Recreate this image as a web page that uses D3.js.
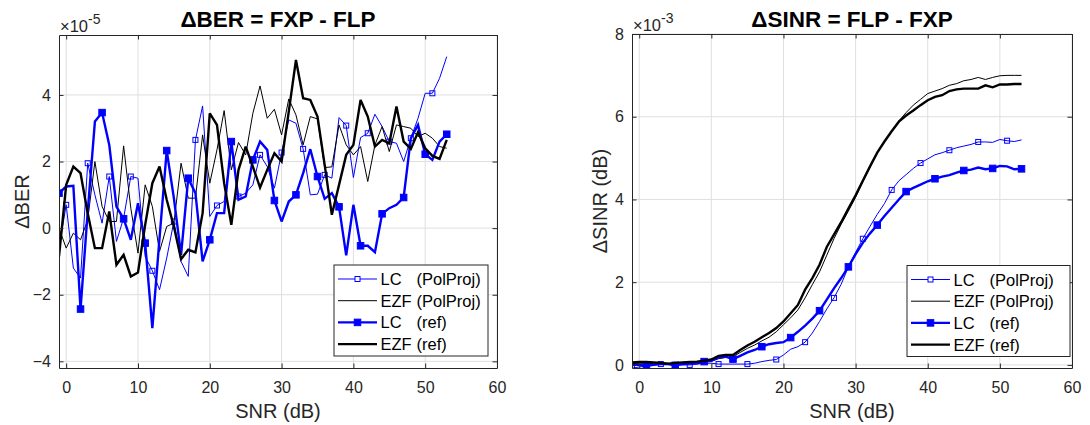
<!DOCTYPE html>
<html><head><meta charset="utf-8">
<script src="https://cdn.jsdelivr.net/npm/d3@7"></script>
<style>
html,body{margin:0;padding:0;background:#fff;}
svg text{font-family:"Liberation Sans",Arial,Helvetica,sans-serif;}
</style></head>
<body>
<svg id="chart" width="1090" height="425"></svg>
<script>
// ---------- DATA ----------
const snr = d3.range(-1, 54); // -1 .. 53 dB

// Left: ΔBER (x1e-5)
const berLcPol = [-0.6,0.7,-1.2,-1.5,1.95,1.0,0.15,1.55,-0.4,0.3,1.55,1.5,-0.85,-1.28,-1.85,-0.9,0.2,-1.0,-1.45,2.65,3.67,0.35,0.68,0.8,2.45,0.95,1.05,1.3,2.2,1.85,1.2,2.27,3.25,3.15,2.38,1.0,1.02,1.6,1.5,3.32,3.08,1.52,2.72,2.85,3.42,3.05,2.6,2.55,2.0,2.7,3.3,4.05,4.05,4.5,5.15];
const berEzfPol = [0,-0.6,-0.15,-0.35,0.25,2.0,0.65,0.2,0.2,2.47,0.6,-0.75,1.3,0.65,-0.7,0.05,0.15,1.95,0.9,0.9,2.8,1.35,2.35,3.53,1.75,2.57,2.2,3.45,4.27,3.3,3.57,2.8,3.88,3.4,2.5,3.35,3.28,1.82,1.84,3.1,2.5,2.2,2.45,1.4,2.5,3.05,2.3,3.1,3.05,3.0,2.75,2.85,2.7,2.45,2.4];
const berLcRef = [1.05,1.25,1.27,-2.43,0.5,3.2,3.47,2.5,0.65,0.28,-0.35,0.75,-0.45,-3.0,-0.3,2.33,0.9,-0.8,1.5,1.05,-1.0,-0.35,0.45,0.45,2.6,0.85,0.95,2.05,2.6,2.35,0.83,0.2,0.8,1.0,1.65,2.37,1.55,0.88,1.05,0.64,-0.82,0.7,-0.53,-0.53,-0.72,0.43,0.6,0.7,0.92,2.7,3.1,2.22,2.05,2.6,2.82];
const berEzfRef = [-0.85,1.3,1.85,1.65,0.45,-0.6,-0.6,0.5,-1.1,-0.8,-1.45,-1.33,0.1,1.35,1.85,0.85,0.05,-0.93,-0.65,-0.73,0.45,3.45,3.1,1.35,0.1,1.75,2.45,1.85,1.22,1.75,2.25,2.0,3.5,5.05,3.9,3.85,3.35,1.9,0.4,1.3,2.2,2.5,3.85,3.35,2.45,2.65,2.55,3.65,2.6,2.38,2.88,2.4,2.17,2.08,2.65];

// Right: ΔSINR (dB, x1e-3)
const sinrLcPol = [-0.08,-0.05,-0.03,0,0.02,0.01,0,0,0,0.02,0.04,0.04,0.02,0.02,0.02,0.02,0.02,0.04,0.08,0.11,0.13,0.24,0.38,0.44,0.55,0.77,1.05,1.35,1.62,1.95,2.37,2.72,3.05,3.35,3.64,3.9,4.23,4.45,4.6,4.75,4.88,4.98,5.08,5.13,5.19,5.25,5.29,5.33,5.39,5.39,5.38,5.45,5.42,5.4,5.44];
const sinrEzfPol = [0.03,0.04,0.04,0.03,0.03,0.02,0.04,0.05,0.05,0.06,0.07,0.09,0.15,0.18,0.2,0.3,0.4,0.48,0.58,0.67,0.8,0.97,1.14,1.33,1.62,1.94,2.25,2.65,3.05,3.4,3.72,4.05,4.42,4.78,5.13,5.4,5.65,5.9,6.1,6.28,6.42,6.56,6.62,6.68,6.76,6.8,6.87,6.9,6.95,6.9,6.95,6.99,7.0,7.0,7.0];
const sinrLcRef = [0,0,-0.02,0,0.02,0.02,-0.01,0.02,0.03,0.04,0.08,0.1,0.18,0.2,0.14,0.22,0.3,0.36,0.44,0.5,0.53,0.55,0.66,0.8,0.95,1.12,1.31,1.58,1.85,2.1,2.37,2.68,2.95,3.18,3.38,3.6,3.8,4.0,4.19,4.28,4.36,4.44,4.5,4.55,4.59,4.65,4.7,4.72,4.77,4.73,4.75,4.81,4.8,4.73,4.74];
const sinrEzfRef = [0.06,0.07,0.07,0.06,0.05,0.03,0.05,0.06,0.07,0.08,0.1,0.13,0.22,0.24,0.24,0.36,0.47,0.56,0.67,0.77,0.89,1.05,1.25,1.45,1.82,2.1,2.42,2.85,3.15,3.45,3.78,4.1,4.45,4.8,5.13,5.4,5.65,5.88,6.03,6.15,6.28,6.4,6.48,6.52,6.62,6.66,6.68,6.68,6.68,6.76,6.71,6.78,6.78,6.79,6.79];

const xTicks = [0,10,20,30,40,50,60];
const berTicks = [-4,-2,0,2,4];
const sinrTicks = [0,2,4,6,8];
const legendLabels = [["LC","(PolProj)"],["EZF","(PolProj)"],["LC","(ref)"],["EZF","(ref)"]];

// ---------- DRAW ----------
const svg = d3.select("#chart");
const AX = "#262626", GRID = "#dfdfdf";

const styles = [
  {color:"#0000ff", w:1,   marker:"open",   ms:5},
  {color:"#000000", w:1,   marker:null},
  {color:"#0000ff", w:2.4, marker:"filled", ms:6.5},
  {color:"#000000", w:2.4, marker:null}
];

function panel(o){
  const g = svg.append("g").attr("transform",`translate(${o.left},${o.top})`);
  const x = d3.scaleLinear().domain([-1,60]).range([0,o.w]);
  const y = d3.scaleLinear().domain(o.ydom).range([o.h,0]);
  // grid
  g.append("g").selectAll("line").data(xTicks).join("line")
    .attr("x1",d=>x(d)).attr("x2",d=>x(d)).attr("y1",0).attr("y2",o.h)
    .attr("stroke",GRID).attr("stroke-width",1);
  g.append("g").selectAll("line").data(o.yticks).join("line")
    .attr("y1",d=>y(d)).attr("y2",d=>y(d)).attr("x1",0).attr("x2",o.w)
    .attr("stroke",GRID).attr("stroke-width",1);

  const clipId = "clip"+o.id;
  g.append("clipPath").attr("id",clipId).append("rect").attr("width",o.w).attr("height",o.h);
  const plot = g.append("g").attr("clip-path",`url(#${clipId})`);
  const line = d3.line().x((d,i)=>x(snr[i])).y(d=>y(d));
  o.series.forEach((s,k)=>{
    const st = styles[k];
    plot.append("path").datum(s).attr("d",line).attr("fill","none")
      .attr("stroke",st.color).attr("stroke-width",st.w).attr("stroke-linejoin","miter").attr("stroke-miterlimit",3);
    if(st.marker){
      const idx = snr.map((v,i)=>i).filter(i=>o.markerIdx[k](snr[i]));
      plot.append("g").selectAll("rect").data(idx).join("rect")
        .attr("x",i=>x(snr[i])-st.ms/2).attr("y",i=>y(s[i])-st.ms/2)
        .attr("width",st.ms).attr("height",st.ms)
        .attr("fill",st.marker==="filled"?st.color:"none")
        .attr("stroke",st.color).attr("stroke-width",1);
    }
  });

  // axes (box with ticks inside)
  const tl = 4.5;
  const xb = g.append("g").attr("transform",`translate(0,${o.h})`)
    .call(d3.axisBottom(x).tickValues(xTicks).tickSizeInner(-tl).tickSizeOuter(0).tickPadding(10));
  const xt = g.append("g").call(d3.axisTop(x).tickValues(xTicks).tickSizeInner(-tl).tickSizeOuter(0).tickFormat(""));
  const yl = g.append("g").call(d3.axisLeft(y).tickValues(o.yticks).tickSizeInner(-tl).tickSizeOuter(0).tickPadding(8));
  const yr = g.append("g").attr("transform",`translate(${o.w},0)`)
    .call(d3.axisRight(y).tickValues(o.yticks).tickSizeInner(-tl).tickSizeOuter(0).tickFormat(""));
  [xb,xt,yl,yr].forEach(a=>{
    a.select(".domain").attr("stroke",AX).attr("stroke-width",1);
    a.selectAll(".tick line").attr("stroke",AX);
    a.selectAll(".tick text").attr("fill",AX).style("font-size","16px").style("font-family","Liberation Sans, Arial, sans-serif");
  });
  xb.selectAll(".tick text").attr("dy","0.95em");

  // exponent
  const ex = g.append("text").attr("x",1).attr("y",-3.5).attr("fill",AX).style("font-size","16.5px");
  ex.append("tspan").text("×10");
  ex.append("tspan").attr("dy",-7.5).style("font-size","14px").text(o.exp);

  // title
  svg.append("text").attr("x",o.left+o.w/2).attr("y",27).attr("text-anchor","middle")
    .style("font-size","22.5px").style("font-weight","bold").attr("fill","#000").text(o.title);
  // x label
  svg.append("text").attr("x",o.left+o.w/2).attr("y",418).attr("text-anchor","middle")
    .style("font-size","20px").attr("fill",AX).text("SNR (dB)");
  // y label
  svg.append("text").attr("transform",`translate(${o.ylabX},${o.top+o.h/2}) rotate(-90)`)
    .attr("text-anchor","middle").style("font-size","20px").attr("fill",AX).text(o.ylab);

  // legend
  const L = o.legend;
  const lg = svg.append("g").attr("transform",`translate(${L.x},${L.y})`);
  lg.append("rect").attr("width",L.w).attr("height",L.h).attr("fill","#fff").attr("stroke",AX).attr("stroke-width",1);
  legendLabels.forEach((lab,k)=>{
    const st = styles[k];
    const yy = 14 + k*21.7;
    lg.append("line").attr("x1",4).attr("x2",43).attr("y1",yy).attr("y2",yy)
      .attr("stroke",st.color).attr("stroke-width",st.w);
    if(st.marker){
      lg.append("rect").attr("x",23.5-st.ms/2).attr("y",yy-st.ms/2).attr("width",st.ms).attr("height",st.ms)
        .attr("fill",st.marker==="filled"?st.color:"#fff").attr("stroke",st.color);
    }
    const t = lg.append("text").attr("y",yy+6).attr("fill","#000").style("font-size","16.5px");
    t.append("tspan").attr("x",46.5).text(lab[0]);
    t.append("tspan").attr("x",82.5).text(lab[1]);
  });
}

panel({id:"L", left:59, top:35, w:438, h:333, ydom:[-4.2,5.8], yticks:berTicks,
  series:[berLcPol,berEzfPol,berLcRef,berEzfRef],
  markerIdx:[s=>((s)%3+3)%3===0, null, s=>((s+1)%3+3)%3===0, null],
  exp:"-5", title:"ΔBER = FXP - FLP", ylab:"ΔBER", ylabX:28.5,
  legend:{x:334, y:265, w:154, h:91}});

panel({id:"R", left:632, top:34, w:440, h:334, ydom:[-0.075,8], yticks:sinrTicks,
  series:[sinrLcPol,sinrEzfPol,sinrLcRef,sinrEzfRef],
  markerIdx:[s=>((s+1)%4+4)%4===0, null, s=>((s-1)%4+4)%4===0, null],
  exp:"-3", title:"ΔSINR = FLP - FXP", ylab:"ΔSINR (dB)", ylabX:607,
  legend:{x:907, y:265.5, w:163, h:91}});
</script>
</body></html>
